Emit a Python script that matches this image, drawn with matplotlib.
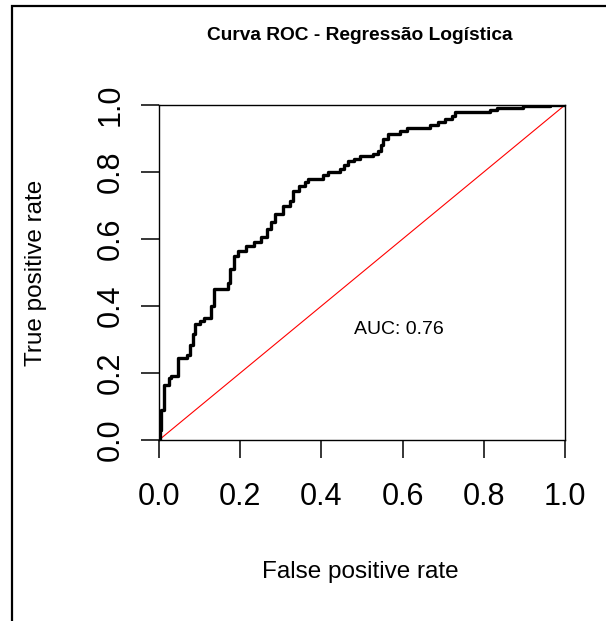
import matplotlib
matplotlib.use('Agg')
import matplotlib.pyplot as plt
from matplotlib.patches import Rectangle

plt.rc('font', family=['Liberation Sans', 'DejaVu Sans'])

# ROC curve (step curve, steps-post)
fpr = [0.000, 0.003, 0.005, 0.012, 0.025, 0.030, 0.047, 0.068, 0.076, 0.084,
       0.089, 0.100, 0.112, 0.128, 0.135, 0.170, 0.175, 0.185, 0.195, 0.215,
       0.235, 0.250, 0.266, 0.275, 0.286, 0.305, 0.322, 0.330, 0.345, 0.360,
       0.368, 0.404, 0.416, 0.446, 0.456, 0.466, 0.480, 0.495, 0.527, 0.539,
       0.547, 0.552, 0.564, 0.594, 0.611, 0.667, 0.687, 0.704, 0.722, 0.729,
       0.815, 0.832, 0.897, 0.963, 1.000]
tpr = [0.000, 0.030, 0.090, 0.165, 0.185, 0.190, 0.245, 0.255, 0.285, 0.315,
       0.345, 0.355, 0.365, 0.400, 0.450, 0.470, 0.510, 0.550, 0.565, 0.578,
       0.590, 0.605, 0.630, 0.650, 0.674, 0.698, 0.713, 0.743, 0.757, 0.770,
       0.778, 0.790, 0.800, 0.810, 0.820, 0.832, 0.840, 0.847, 0.853, 0.862,
       0.880, 0.898, 0.912, 0.922, 0.932, 0.940, 0.949, 0.958, 0.968, 0.978,
       0.985, 0.991, 0.997, 1.000, 1.000]
ticks = [0.0, 0.2, 0.4, 0.6, 0.8, 1.0]
tick_labels = ['0.0', '0.2', '0.4', '0.6', '0.8', '1.0']
auc = 0.76

fig = plt.figure(figsize=(6.06, 6.21), dpi=100)
ax = fig.add_axes([159/606, 1 - 440/621, 406/606, 335/621])

ax.plot(fpr, tpr, color='black', lw=2.4, drawstyle='steps-post', zorder=3)
ax.plot([0, 1], [0, 1], color='red', lw=0.8, zorder=2)
ax.text(0.59, 0.33, 'AUC: %.2f' % auc, fontsize=14, ha='center', va='center')

ax.set_xlim(0, 1)
ax.set_ylim(0, 1)
ax.set_xticks(ticks)
ax.set_yticks(ticks)
ax.set_xticklabels(tick_labels)
ax.set_yticklabels(tick_labels, rotation=90, va='center')
ax.tick_params(direction='out', length=13, width=1.1, labelsize=22)
ax.tick_params(axis='x', pad=17)
ax.tick_params(axis='y', pad=11)
for s in ax.spines.values():
    s.set_linewidth(1.0)

fig.text(360/606, 1 - 36/621, 'Curva ROC - Regressão Logística',
         fontsize=13.8, fontweight='bold', ha='center', va='center')
fig.text(360/606, 1 - 572/621, 'False positive rate', fontsize=17.5,
         ha='center', va='center')
fig.text(36/606, 1 - 273/621, 'True positive rate', fontsize=17.5,
         rotation=90, ha='center', va='center')

# outer frame (only left and top edges visible)
fig.patches.append(Rectangle((12/606, -0.1), 1.2, 1.1 - 6/621, transform=fig.transFigure,
                             fill=False, edgecolor='black', lw=1.6))

fig.savefig('out.png', dpi=100)
